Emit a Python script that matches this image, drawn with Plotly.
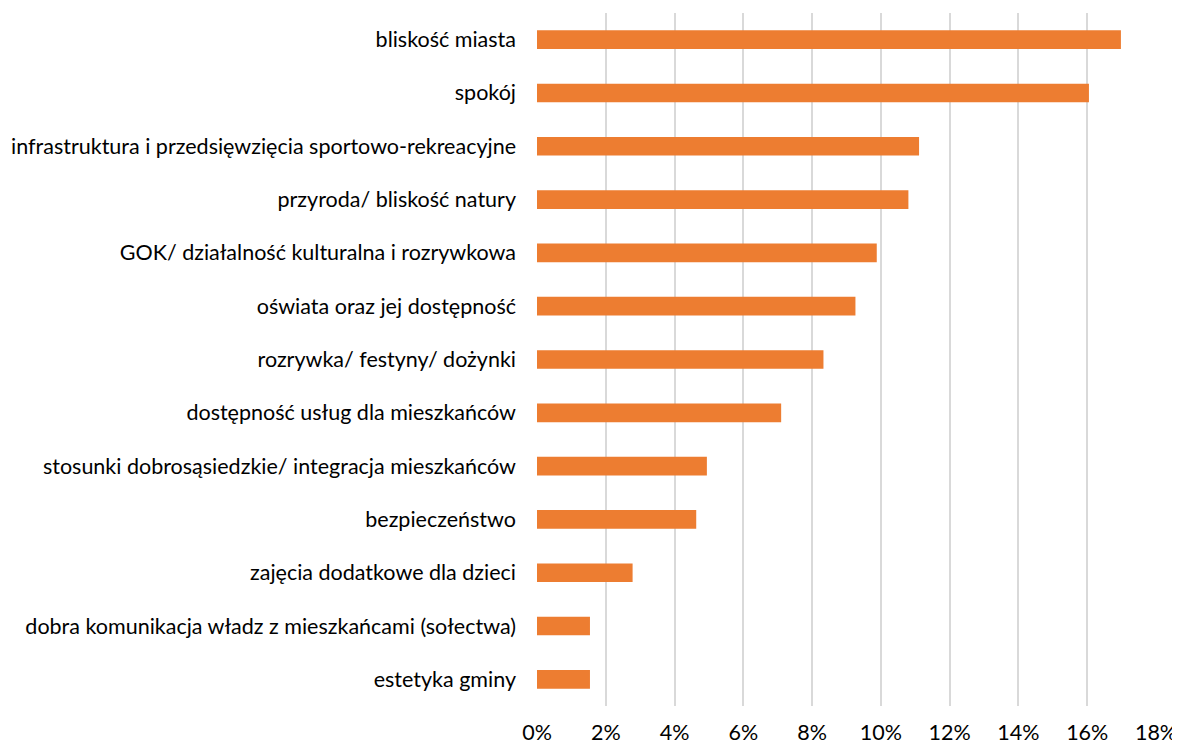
import plotly.graph_objects as go

# categories, top to bottom as shown
categories = [
    "bliskość miasta",
    "spokój",
    "infrastruktura i przedsięwzięcia sportowo-rekreacyjne",
    "przyroda/ bliskość natury",
    "GOK/ działalność kulturalna i rozrywkowa",
    "oświata oraz jej dostępność",
    "rozrywka/ festyny/ dożynki",
    "dostępność usług dla mieszkańców",
    "stosunki dobrosąsiedzkie/ integracja mieszkańców",
    "bezpieczeństwo",
    "zajęcia dodatkowe dla dzieci",
    "dobra komunikacja władz z mieszkańcami (sołectwa)",
    "estetyka gminy",
]
shares = [0.1698, 0.1605, 0.1111, 0.1080, 0.0988, 0.0926, 0.0833,
          0.0710, 0.0494, 0.0463, 0.0278, 0.0154, 0.0154]

tick_vals = [0, 0.02, 0.04, 0.06, 0.08, 0.10, 0.12, 0.14, 0.16, 0.18]
tick_text = ["0%", "2%", "4%", "6%", "8%", "10%", "12%", "14%", "16%", "18%"]

fig = go.Figure()
fig.add_trace(
    go.Bar(
        x=shares,
        y=categories,
        orientation="h",
        marker=dict(color="#ED7D31", line=dict(width=0)),
        hoverinfo="x+y",
    )
)

# page body has an 8px default margin, so the figure is sized/shifted for it
fig.update_layout(
    width=1172,
    height=737,
    margin=dict(l=529, r=24, t=5, b=39),
    plot_bgcolor="white",
    paper_bgcolor="white",
    bargap=0.65,
    showlegend=False,
    font=dict(family="Lato, 'Open Sans', sans-serif", size=21.5, color="#000000"),
)
fig.update_xaxes(
    range=[0, 0.18],
    tickvals=tick_vals,
    ticktext=tick_text,
    showgrid=True,
    gridcolor="#d9d9d9",
    gridwidth=1.5,
    zeroline=False,
    showline=False,
    ticks="",
    ticklabelstandoff=11,
    automargin=False,
    fixedrange=True,
)
fig.update_yaxes(
    autorange="reversed",
    showgrid=False,
    showline=False,
    ticks="",
    ticklabelstandoff=20,
    automargin=False,
    fixedrange=True,
)

fig.write_html("out.html")
